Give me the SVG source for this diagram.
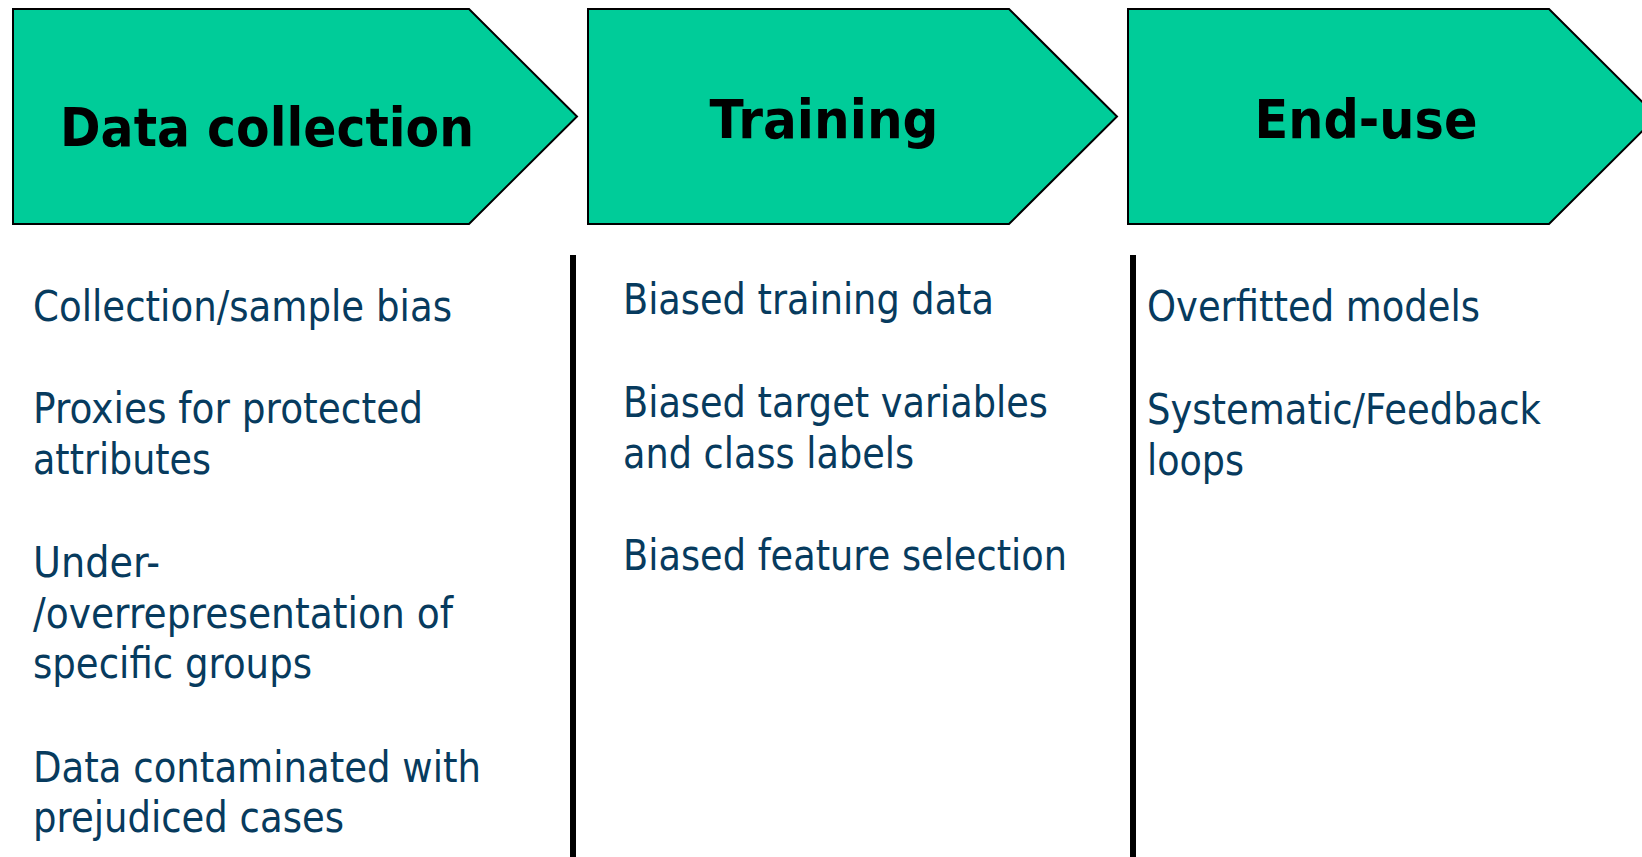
<svg xmlns="http://www.w3.org/2000/svg" width="1642" height="857" viewBox="0 0 1642 857">
<style>
.box{fill:#00CC99;stroke:#000;stroke-width:2}
.hd{font-family:"DejaVu Sans",Verdana,sans-serif;font-weight:bold;font-size:53px;fill:#000;text-anchor:middle}
.tx{font-family:"DejaVu Sans",Verdana,sans-serif;font-size:42px;fill:#073B5E}
.sep{stroke:#000;stroke-width:6}
</style>
<rect width="1642" height="857" fill="#fff"/>
<g id="data-collection">
<polygon class="box" points="13,9 469,9 577,116.5 469,224 13,224"/>
<text class="hd" x="267" y="146" textLength="414" lengthAdjust="spacingAndGlyphs">Data collection</text>
</g>
<g id="training">
<polygon class="box" points="588,9 1009,9 1117,116.5 1009,224 588,224"/>
<text class="hd" x="824" y="138" textLength="229" lengthAdjust="spacingAndGlyphs">Training</text>
</g>
<g id="end-use">
<polygon class="box" points="1128,9 1549,9 1657,116.5 1549,224 1128,224"/>
<text class="hd" x="1366" y="138" textLength="223" lengthAdjust="spacingAndGlyphs">End-use</text>
</g>
<g id="connectors">
<line class="sep" x1="573" y1="255" x2="573" y2="857"/>
<line class="sep" x1="1133" y1="255" x2="1133" y2="857"/>
</g>
<g id="data-collection-items">
<text class="tx" x="33" y="321" textLength="419" lengthAdjust="spacingAndGlyphs">Collection/sample bias</text>
<text class="tx" x="33" y="423" textLength="390" lengthAdjust="spacingAndGlyphs">Proxies for protected</text>
<text class="tx" x="33" y="474" textLength="178" lengthAdjust="spacingAndGlyphs">attributes</text>
<text class="tx" x="33" y="577" textLength="127" lengthAdjust="spacingAndGlyphs">Under-</text>
<text class="tx" x="33" y="628" textLength="420" lengthAdjust="spacingAndGlyphs">/overrepresentation of</text>
<text class="tx" x="33" y="678" textLength="279" lengthAdjust="spacingAndGlyphs">specific groups</text>
<text class="tx" x="33" y="782" textLength="448" lengthAdjust="spacingAndGlyphs">Data contaminated with</text>
<text class="tx" x="33" y="832" textLength="311" lengthAdjust="spacingAndGlyphs">prejudiced cases</text>
</g>
<g id="training-items">
<text class="tx" x="623" y="314" textLength="371" lengthAdjust="spacingAndGlyphs">Biased training data</text>
<text class="tx" x="623" y="417" textLength="425" lengthAdjust="spacingAndGlyphs">Biased target variables</text>
<text class="tx" x="623" y="468" textLength="291" lengthAdjust="spacingAndGlyphs">and class labels</text>
<text class="tx" x="623" y="570" textLength="444" lengthAdjust="spacingAndGlyphs">Biased feature selection</text>
</g>
<g id="end-use-items">
<text class="tx" x="1147" y="321" textLength="333" lengthAdjust="spacingAndGlyphs">Overfitted models</text>
<text class="tx" x="1147" y="424" textLength="394" lengthAdjust="spacingAndGlyphs">Systematic/Feedback</text>
<text class="tx" x="1147" y="475" textLength="97" lengthAdjust="spacingAndGlyphs">loops</text>
</g>
</svg>
